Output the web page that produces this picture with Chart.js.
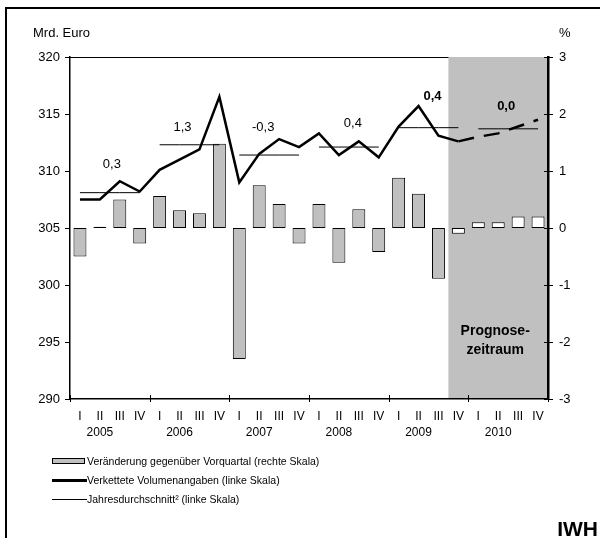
<!DOCTYPE html>
<html lang="de">
<head>
<meta charset="utf-8">
<title>Verkettete Volumenangaben</title>
<script src="https://cdn.jsdelivr.net/npm/chart.js@4/dist/chart.umd.min.js"></script>
<style>
  html, body { margin: 0; padding: 0; background: #fff; }
  body { width: 600px; height: 538px; position: relative; overflow: hidden;
         font-family: 'Liberation Sans', Arial, sans-serif; color: #000; }
  #frame { position: absolute; left: 5px; top: 7px; width: 640px; height: 600px;
           border: 2px solid #000; box-sizing: border-box; }
  #chart { position: absolute; left: 0; top: 0; }
  .txt { position: absolute; white-space: nowrap; }
  .unit { font-size: 13px; line-height: 16px; top: 25px; }
  .leg { font-size: 10.5px; line-height: 14px; left: 87px; }
  .sw { position: absolute; left: 52px; box-sizing: border-box; }
  #iwh { font-weight: bold; font-size: 21px; line-height: 24px; right: 2px; top: 517px; }
</style>
</head>
<body>
<div id="frame"></div>
<canvas id="chart" width="600" height="538"></canvas>

<div class="txt unit" style="left:33px">Mrd. Euro</div>
<div class="txt unit" style="left:559px">%</div>

<div class="sw" style="top:458px;width:33px;height:6px;background:#c0c0c0;border:1px solid #000"></div>
<div class="txt leg" style="top:454px">Veränderung gegenüber Vorquartal (rechte Skala)</div>
<div class="sw" style="top:478.5px;width:35px;height:3px;background:#000"></div>
<div class="txt leg" style="top:473px">Verkettete Volumenangaben (linke Skala)</div>
<div class="sw" style="top:499px;width:35px;height:1px;background:#000"></div>
<div class="txt leg" style="top:492px">Jahresdurchschnitt² (linke Skala)</div>

<div class="txt" id="iwh">IWH</div>

<script>
// Quartale 2005 bis 2010
var quarters = ['I', 'II', 'III', 'IV'];
var years = ['2005', '2006', '2007', '2008', '2009', '2010'];

// Veraenderung gegenueber Vorquartal in % (rechte Skala)
var change = [-0.5, 0.02, 0.5, -0.27, 0.56, 0.31, 0.26, 1.48,
              -2.3, 0.75, 0.42, -0.27, 0.42, -0.61, 0.33, -0.42,
              0.88, 0.6, -0.89, -0.1, 0.1, 0.1, 0.2, 0.2];

// Verkettete Volumenangaben in Mrd. Euro (linke Skala)
var volume = [307.5, 307.5, 309.1, 308.2, 310.1, 311.0, 311.9, 316.5,
              309.0, 311.5, 312.8, 312.1, 313.3, 311.4, 312.6, 311.2,
              313.9, 315.7, 313.1, 312.6, 313.0, 313.3, 313.9, 314.5];

// Jahresdurchschnitt (linke Skala) und Jahresrate in %
var yearAvg = [308.1, 312.3, 311.4, 312.1, 313.8, 313.7];
var yearRate = ['0,3', '1,3', '-0,3', '0,4', '0,4', '0,0'];

var leftTicks = [290, 295, 300, 305, 310, 315, 320];
var rightTicks = [-3, -2, -1, 0, 1, 2, 3];

// ab hier Prognose (2009 IV)
var FORECAST_FROM = 19;

var labels = [];
var avgData = [];
for (var i = 0; i < years.length * 4; i++) {
  labels.push([quarters[i % 4], i % 4 === 1 ? years[Math.floor(i / 4)] : '']);
  avgData.push(yearAvg[Math.floor(i / 4)]);
}

// Versatz der Jahresraten-Beschriftung gegenueber der Durchschnittslinie (px)
var rateOffset = [[2, -28], [-7, -17], [-6, -28], [4, -24], [4, -31], [-2, -22]];

Chart.defaults.font.family = "'Liberation Sans', Arial, sans-serif";
Chart.defaults.color = '#000';

var decor = {
  id: 'decor',
  beforeDraw: function (chart) {
    var c = chart.ctx, a = chart.chartArea, x = chart.scales.x;
    var x0 = x.getPixelForValue(FORECAST_FROM - 0.5);
    c.save();
    c.strokeStyle = '#000';
    c.lineWidth = 1;
    c.beginPath();
    c.moveTo(a.left, a.top + 0.5);
    c.lineTo(a.right, a.top + 0.5);
    c.stroke();
    c.fillStyle = '#c0c0c0';
    c.fillRect(x0, a.top, a.right - x0, a.bottom - a.top);
    c.restore();
  },
  afterDraw: function (chart) {
    var c = chart.ctx, a = chart.chartArea;
    var x = chart.scales.x, y = chart.scales.y, y2 = chart.scales.y2;
    c.save();
    c.strokeStyle = '#000';
    c.lineWidth = 1;
    c.beginPath();
    leftTicks.forEach(function (v) {
      var py = Math.round(y.getPixelForValue(v)) + 0.5;
      c.moveTo(a.left - 5, py); c.lineTo(a.left, py);
    });
    rightTicks.forEach(function (v) {
      var py = Math.round(y2.getPixelForValue(v)) + 0.5;
      c.moveTo(a.right - 4, py); c.lineTo(a.right + 5, py);
    });
    for (var k = 0; k <= years.length; k++) {
      var px = Math.round(x.getPixelForValue(k * 4 - 0.5)) + 0.5;
      c.moveTo(px, a.bottom - 4); c.lineTo(px, a.bottom + 3);
    }
    c.stroke();

    // Jahresraten
    c.textAlign = 'center';
    c.textBaseline = 'middle';
    yearRate.forEach(function (t, k) {
      var cx = (x.getPixelForValue(k * 4) + x.getPixelForValue(k * 4 + 3)) / 2;
      var cy = y.getPixelForValue(yearAvg[k]);
      c.font = (k * 4 + 3 >= FORECAST_FROM ? 'bold ' : '') + "13px 'Liberation Sans', Arial, sans-serif";
      c.fillText(t, cx + rateOffset[k][0], cy + rateOffset[k][1]);
    });

    // Prognosezeitraum
    var x0 = x.getPixelForValue(FORECAST_FROM - 0.5);
    var mid = (x0 + a.right) / 2 - 3;
    c.font = "bold 14px 'Liberation Sans', Arial, sans-serif";
    c.fillText('Prognose-', mid, y2.getPixelForValue(-1.81));
    c.fillText('zeitraum', mid, y2.getPixelForValue(-2.15));
    c.restore();
  }
};

new Chart(document.getElementById('chart'), {
  type: 'bar',
  data: {
    labels: labels,
    datasets: [
      {
        type: 'line',
        label: 'Verkettete Volumenangaben (linke Skala)',
        data: volume,
        yAxisID: 'y',
        borderColor: '#000',
        borderWidth: 2.5,
        pointRadius: 0,
        tension: 0,
        fill: false,
        order: 1,
        segment: {
          borderDash: function (ctx) { return ctx.p0DataIndex >= FORECAST_FROM ? [16, 10] : undefined; }
        }
      },
      {
        type: 'line',
        label: 'Jahresdurchschnitt² (linke Skala)',
        data: avgData,
        yAxisID: 'y',
        borderColor: '#000',
        borderWidth: 1,
        pointRadius: 0,
        tension: 0,
        fill: false,
        order: 2,
        segment: {
          borderColor: function (ctx) {
            return Math.floor(ctx.p0DataIndex / 4) !== Math.floor(ctx.p1DataIndex / 4) ? 'rgba(0,0,0,0)' : '#000';
          }
        }
      },
      {
        type: 'bar',
        label: 'Veränderung gegenüber Vorquartal (rechte Skala)',
        data: change,
        yAxisID: 'y2',
        backgroundColor: change.map(function (v, i) { return i >= FORECAST_FROM ? '#fff' : '#c0c0c0'; }),
        borderColor: '#000',
        borderWidth: 1,
        borderSkipped: false,
        barPercentage: 0.65,
        categoryPercentage: 1,
        order: 3
      }
    ]
  },
  options: {
    responsive: false,
    animation: false,
    devicePixelRatio: 1,
    layout: { padding: { top: 57, left: 0, right: 0, bottom: 0 } },
    plugins: { legend: { display: false }, tooltip: { enabled: false } },
    scales: {
      x: {
        offset: true,
        grid: { display: false, drawTicks: false },
        border: { display: true, color: '#000', width: 1.5 },
        ticks: { autoSkip: false, maxRotation: 0, minRotation: 0, padding: 10,
                 font: { size: 12, lineHeight: '16px' } },
        afterFit: function (s) { s.height = 139; }
      },
      y: {
        position: 'left',
        min: 290, max: 320,
        grid: { display: false, drawTicks: false },
        border: { display: true, color: '#000', width: 1.5 },
        ticks: { stepSize: 5, padding: 10, font: { size: 13 },
                 callback: function (v) { return String(v); } },
        afterFit: function (s) { s.width = 70; }
      },
      y2: {
        position: 'right',
        min: -3, max: 3,
        grid: { display: false, drawTicks: false },
        border: { display: true, color: '#000', width: 2.5 },
        ticks: { stepSize: 1, padding: 11, font: { size: 13 },
                 callback: function (v) { return String(v); } },
        afterFit: function (s) { s.width = 52; }
      }
    }
  },
  plugins: [decor]
});
</script>
</body>
</html>
